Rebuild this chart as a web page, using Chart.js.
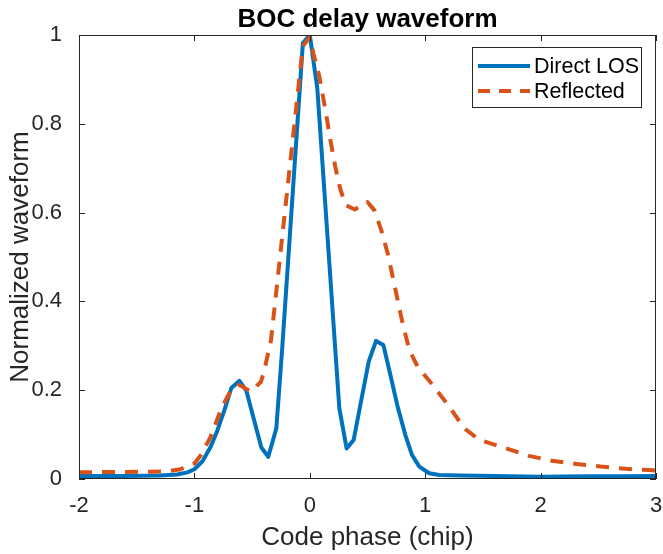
<!DOCTYPE html>
<html><head><meta charset="utf-8">
<script src="https://cdn.jsdelivr.net/npm/chart.js@4/dist/chart.umd.min.js"></script>
<style>html,body{margin:0;padding:0;background:#fff;}</style>
</head><body>
<canvas id="c" width="663" height="554"></canvas>
<script>
const chartTitle = 'BOC delay waveform';
const xAxisTitle = 'Code phase (chip)';
const yAxisTitle = 'Normalized waveform';
const seriesNames = ['Direct LOS', 'Reflected'];
const xTicks = [-2, -1, 0, 1, 2, 3];
const yTicks = [0, 0.2, 0.4, 0.6, 0.8, 1];

const directX = [-2.0, -1.6, -1.3, -1.15, -1.06, -1.0, -0.93, -0.86, -0.80, -0.74, -0.68, -0.61, -0.55, -0.42, -0.36, -0.29, -0.24, -0.06, 0.0, 0.065, 0.256, 0.319, 0.38, 0.51, 0.574, 0.637, 0.689, 0.761, 0.828, 0.886, 0.949, 1.035, 1.122, 1.3, 1.6, 2.0, 2.4, 2.7, 3.0];
const directY = [0.007, 0.007, 0.008, 0.010, 0.015, 0.022, 0.040, 0.072, 0.110, 0.155, 0.205, 0.221, 0.199, 0.071, 0.050, 0.114, 0.291, 0.982, 1.0, 0.88, 0.159, 0.069, 0.088, 0.264, 0.311, 0.302, 0.245, 0.163, 0.099, 0.054, 0.028, 0.013, 0.009, 0.008, 0.007, 0.005, 0.006, 0.006, 0.007];

const reflX = [-2.0, -1.6, -1.25, -1.12, -1.0, -0.94, -0.86, -0.76, -0.683, -0.611, -0.51, -0.423, -0.394, -0.336, -0.06, 0.0, 0.03, 0.08, 0.14, 0.178, 0.221, 0.262, 0.31, 0.39, 0.5, 0.56, 0.62, 0.675, 0.718, 0.761, 0.804, 0.862, 0.934, 1.064, 1.209, 1.339, 1.469, 1.7, 1.9, 2.1, 2.31, 2.52, 2.74, 2.94, 3.0];
const reflY = [0.015, 0.016, 0.017, 0.022, 0.035, 0.055, 0.095, 0.163, 0.200, 0.212, 0.197, 0.219, 0.245, 0.313, 0.975, 0.995, 0.96, 0.91, 0.824, 0.764, 0.703, 0.655, 0.617, 0.607, 0.624, 0.605, 0.56, 0.508, 0.456, 0.403, 0.351, 0.291, 0.253, 0.212, 0.163, 0.114, 0.088, 0.069, 0.052, 0.041, 0.034, 0.028, 0.023, 0.020, 0.019];

const BLUE = '#0072BD', ORANGE = '#D95319', AX = '#262626';
const FONT = "'Liberation Sans', Arial, Helvetica, sans-serif";

function pts(xs, ys) { return xs.map((x, i) => ({x: x, y: ys[i]})); }

const boxPlugin = {
  id: 'boxPlugin',
  afterDatasetsDraw(chart) {
    const ctx = chart.ctx, a = chart.chartArea;
    const xs = chart.scales.x, ys = chart.scales.y;
    ctx.save();
    ctx.strokeStyle = AX; ctx.lineWidth = 1;
    ctx.strokeRect(Math.round(a.left) + 0.5, Math.round(a.top) + 0.5, Math.round(a.right - a.left) - 1, Math.round(a.bottom - a.top) - 1);
    const tl = 6;
    ctx.beginPath();
    xTicks.forEach(v => {
      const p = Math.round(xs.getPixelForValue(v)) + 0.5;
      ctx.moveTo(p, a.bottom); ctx.lineTo(p, a.bottom - tl);
      ctx.moveTo(p, a.top); ctx.lineTo(p, a.top + tl);
    });
    yTicks.forEach(v => {
      const p = Math.round(ys.getPixelForValue(v)) + 0.5;
      ctx.moveTo(a.left, p); ctx.lineTo(a.left + tl, p);
      ctx.moveTo(a.right, p); ctx.lineTo(a.right - tl, p);
    });
    ctx.stroke();
    // title
    ctx.fillStyle = '#000';
    ctx.font = "bold 26px " + FONT;
    ctx.textAlign = 'center'; ctx.textBaseline = 'alphabetic';
    ctx.fillText(chartTitle, (a.left + a.right) / 2, 27);
    // legend
    const lx = 472, ly = 47, lw = 169, lh = 60;
    ctx.fillStyle = '#fff';
    ctx.fillRect(lx, ly, lw, lh);
    ctx.strokeStyle = AX; ctx.lineWidth = 1;
    ctx.strokeRect(lx + 0.5, ly + 0.5, lw, lh);
    const rows = [ly + 19, ly + 44];
    const cols = [BLUE, ORANGE];
    const dashes = [[], [12, 9]];
    rows.forEach((ry, i) => {
      ctx.beginPath();
      ctx.strokeStyle = cols[i]; ctx.lineWidth = 4;
      ctx.setLineDash(dashes[i]);
      ctx.moveTo(lx + 6, ry); ctx.lineTo(lx + 58, ry);
      ctx.stroke();
      ctx.setLineDash([]);
      ctx.fillStyle = '#000';
      ctx.font = "21.5px " + FONT;
      ctx.textAlign = 'left'; ctx.textBaseline = 'middle';
      ctx.fillText(seriesNames[i], lx + 62, ry + 1);
    });
    ctx.restore();
  }
};

new Chart(document.getElementById('c'), {
  type: 'line',
  data: {
    datasets: [
      { label: seriesNames[0], data: pts(directX, directY), borderColor: BLUE, borderWidth: 4, pointRadius: 0, tension: 0, fill: false, order: 1, borderJoinStyle: 'round' },
      { label: seriesNames[1], data: pts(reflX, reflY), borderColor: ORANGE, borderWidth: 4, pointRadius: 0, tension: 0, fill: false, order: 0, borderDash: [13, 10], borderJoinStyle: 'round' }
    ]
  },
  options: {
    responsive: false, animation: false, devicePixelRatio: 1,
    layout: { padding: { top: 35, right: 7, left: 0, bottom: 0 } },
    plugins: { legend: { display: false }, tooltip: { enabled: false }, title: { display: false } },
    scales: {
      x: {
        type: 'linear', min: -2, max: 3,
        afterBuildTicks: s => { s.ticks = xTicks.map(v => ({value: v})); },
        afterFit: s => { s.height = 75; s.paddingLeft = 0; s.paddingRight = 0; },
        grid: { display: false }, border: { display: false },
        ticks: { color: AX, padding: 6, font: { family: FONT, size: 22 }, callback: v => String(v), maxRotation: 0 },
        title: { display: true, text: xAxisTitle, color: AX, font: { family: FONT, size: 26 }, padding: { top: 0, bottom: 1 } }
      },
      y: {
        type: 'linear', min: 0, max: 1,
        afterBuildTicks: s => { s.ticks = yTicks.map(v => ({value: v})); },
        afterFit: s => { s.width = 79; s.paddingTop = 0; s.paddingBottom = 0; },
        grid: { display: false }, border: { display: false },
        ticks: { color: AX, padding: 9, font: { family: FONT, size: 22 }, callback: v => String(v) },
        title: { display: true, text: yAxisTitle, color: AX, font: { family: FONT, size: 26 }, padding: { top: 5, bottom: 0 } }
      }
    }
  },
  plugins: [boxPlugin]
});
</script>
</body></html>
